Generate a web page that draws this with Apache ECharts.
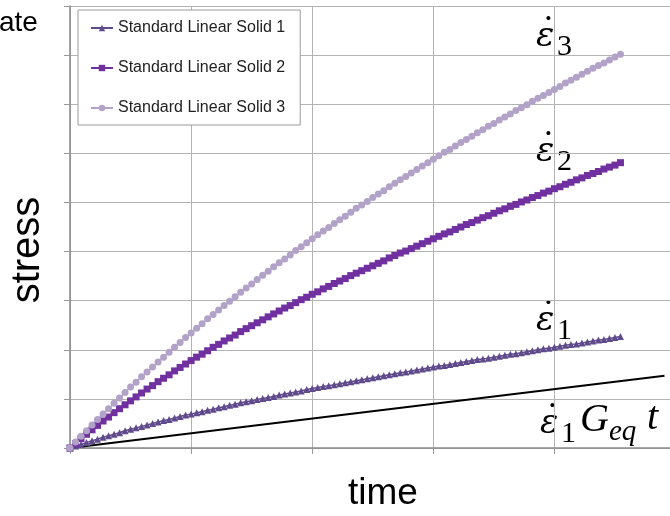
<!DOCTYPE html>
<html>
<head>
<meta charset="utf-8">
<script src="https://cdn.jsdelivr.net/npm/echarts@6/dist/echarts.min.js"></script>
<style>
  html, body { margin: 0; padding: 0; background: #fff; }
  #chart { width: 670px; height: 516px; }
</style>
</head>
<body>
<div id="chart"></div>
<script>
// time steps 0..100 (22 steps per grid cell), stress values
const sls1 = [0, 0.04, 0.07, 0.11, 0.15, 0.18, 0.22, 0.25, 0.28, 0.31, 0.35, 0.38, 0.41, 0.44, 0.47, 0.50, 0.53, 0.56, 0.58, 0.61,
  0.64, 0.67, 0.69, 0.72, 0.74, 0.77, 0.79, 0.82, 0.84, 0.87, 0.89, 0.92, 0.94, 0.96, 0.99, 1.01, 1.03, 1.05, 1.08, 1.10,
  1.12, 1.14, 1.16, 1.19, 1.21, 1.23, 1.25, 1.27, 1.29, 1.31, 1.33, 1.35, 1.37, 1.39, 1.41, 1.43, 1.45, 1.47, 1.49, 1.51,
  1.53, 1.55, 1.57, 1.59, 1.61, 1.63, 1.65, 1.67, 1.68, 1.70, 1.72, 1.74, 1.76, 1.78, 1.80, 1.81, 1.83, 1.85, 1.87, 1.89,
  1.91, 1.92, 1.94, 1.96, 1.98, 2.00, 2.02, 2.03, 2.05, 2.07, 2.09, 2.11, 2.12, 2.14, 2.16, 2.18, 2.20, 2.21, 2.23, 2.25, 2.27]
const sls2 = [0, 0.09, 0.19, 0.28, 0.37, 0.46, 0.55, 0.63, 0.72, 0.80, 0.88, 0.96, 1.04, 1.12, 1.20, 1.27, 1.35, 1.42, 1.49, 1.57,
  1.64, 1.71, 1.78, 1.85, 1.91, 1.98, 2.05, 2.11, 2.18, 2.24, 2.30, 2.37, 2.43, 2.49, 2.55, 2.61, 2.67, 2.73, 2.79, 2.85,
  2.90, 2.96, 3.02, 3.07, 3.13, 3.18, 3.24, 3.29, 3.35, 3.40, 3.45, 3.51, 3.56, 3.61, 3.66, 3.71, 3.76, 3.81, 3.87, 3.92,
  3.97, 4.01, 4.06, 4.11, 4.16, 4.21, 4.26, 4.31, 4.36, 4.40, 4.45, 4.50, 4.55, 4.59, 4.64, 4.69, 4.73, 4.78, 4.83, 4.87,
  4.92, 4.96, 5.01, 5.05, 5.10, 5.14, 5.19, 5.23, 5.28, 5.32, 5.37, 5.41, 5.46, 5.50, 5.55, 5.59, 5.63, 5.68, 5.72, 5.76, 5.81]
const sls3 = [0, 0.12, 0.24, 0.35, 0.47, 0.58, 0.69, 0.80, 0.91, 1.02, 1.13, 1.24, 1.34, 1.45, 1.55, 1.65, 1.75, 1.85, 1.95, 2.05,
  2.15, 2.25, 2.34, 2.44, 2.53, 2.63, 2.72, 2.81, 2.90, 2.99, 3.08, 3.17, 3.26, 3.34, 3.43, 3.52, 3.60, 3.69, 3.77, 3.85,
  3.93, 4.02, 4.10, 4.18, 4.26, 4.34, 4.42, 4.49, 4.57, 4.65, 4.72, 4.80, 4.88, 4.95, 5.02, 5.10, 5.17, 5.24, 5.32, 5.39,
  5.46, 5.53, 5.60, 5.67, 5.74, 5.81, 5.88, 5.95, 6.02, 6.08, 6.15, 6.22, 6.28, 6.35, 6.42, 6.48, 6.55, 6.61, 6.68, 6.74,
  6.80, 6.87, 6.93, 6.99, 7.06, 7.12, 7.18, 7.24, 7.30, 7.36, 7.43, 7.49, 7.55, 7.61, 7.67, 7.73, 7.79, 7.84, 7.90, 7.96, 8.02]
// straight line eps1 * Geq * t
const eqLineX = [0, 108]
const eqLineY = [0, 1.47]
const seriesNames = ['Standard Linear Solid 1', 'Standard Linear Solid 2', 'Standard Linear Solid 3']

const toPairs = arr => arr.map((v, i) => [i, v])

const chart = echarts.init(document.getElementById('chart'))

const mathFont = 'Liberation Serif'
// annotation label: epsilon, dot above and subscript
function mathLabel (x, y, sub) {
  return [
    { type: 'text', left: x, top: y + 2, style: { text: 'ε', font: 'italic 34px DejaVu Serif', fill: '#000' } },
    { type: 'text', left: x + 6, top: y - 6, style: { text: '˙', font: '38px ' + mathFont, fill: '#000' } },
    { type: 'text', left: x + 21, top: y + 14, style: { text: sub, font: '30px ' + mathFont, fill: '#000' } }
  ]
}

chart.setOption({
  animation: false,
  grid: { left: 70, right: 0, top: 6, bottom: 68 },
  legend: {
    orient: 'vertical',
    left: 78,
    top: 10,
    padding: [9, 15, 8, 12],
    itemGap: 22,
    itemWidth: 22,
    itemHeight: 8,
    backgroundColor: '#fff',
    borderColor: '#9a9a9a',
    borderWidth: 1,
    textStyle: { fontFamily: 'Liberation Sans', fontSize: 16, color: '#222', lineHeight: 18 },
    data: seriesNames
  },
  xAxis: {
    type: 'value',
    min: 0,
    max: 109,
    interval: 22,
    axisLine: { show: true, lineStyle: { color: '#8a8a8a', width: 1.5 } },
    axisTick: { show: true, length: 6, lineStyle: { color: '#999' } },
    axisLabel: { show: false },
    splitLine: { show: true, lineStyle: { color: '#b3b3b3', width: 1 } }
  },
  yAxis: {
    type: 'value',
    min: 0,
    max: 9,
    interval: 1,
    axisLine: { show: true, lineStyle: { color: '#8a8a8a', width: 1.5 } },
    axisTick: { show: true, length: 6, lineStyle: { color: '#999' } },
    axisLabel: { show: false },
    splitLine: { show: true, lineStyle: { color: '#b3b3b3', width: 1 } }
  },
  series: [
    {
      name: seriesNames[0],
      type: 'line',
      data: toPairs(sls1),
      symbol: 'triangle',
      symbolSize: 7,
      showAllSymbol: true,
      color: '#5f4a8b',
      lineStyle: { width: 1.5 }
    },
    {
      name: seriesNames[1],
      type: 'line',
      data: toPairs(sls2),
      symbol: 'rect',
      symbolSize: 7,
      showAllSymbol: true,
      color: '#7030a0',
      lineStyle: { width: 2 }
    },
    {
      name: seriesNames[2],
      type: 'line',
      data: toPairs(sls3),
      symbol: 'circle',
      symbolSize: 7,
      showAllSymbol: true,
      color: '#b3a2c8',
      lineStyle: { width: 1.5 }
    },
    {
      name: 'eq',
      type: 'line',
      data: eqLineX.map((x, i) => [x, eqLineY[i]]),
      symbol: 'none',
      color: '#000',
      lineStyle: { width: 2 },
      z: 1
    }
  ],
  graphic: [
    { type: 'text', left: -1, top: 9, style: { text: 'ate', font: '28px Liberation Sans', fill: '#000' } },
    {
      type: 'text', x: 28, y: 250, rotation: Math.PI / 2,
      style: { text: 'stress', font: '40px Liberation Sans', fill: '#000', align: 'center', verticalAlign: 'middle' }
    },
    {
      type: 'text', x: 383, y: 494,
      style: { text: 'time', font: '37px Liberation Sans', fill: '#000', align: 'center', verticalAlign: 'middle' }
    },
    ...mathLabel(536, 18, '3'),
    ...mathLabel(536, 133, '2'),
    ...mathLabel(536, 302, '1'),
    ...mathLabel(540, 405, '1'),
    { type: 'text', left: 580, top: 400, style: { text: 'G', font: 'italic 40px ' + mathFont, fill: '#000' } },
    { type: 'text', left: 609, top: 418, style: { text: 'eq', font: 'italic 29px ' + mathFont, fill: '#000' } },
    { type: 'text', left: 647, top: 398, style: { text: 't', font: 'italic 40px ' + mathFont, fill: '#000' } }
  ]
})
</script>
</body>
</html>
